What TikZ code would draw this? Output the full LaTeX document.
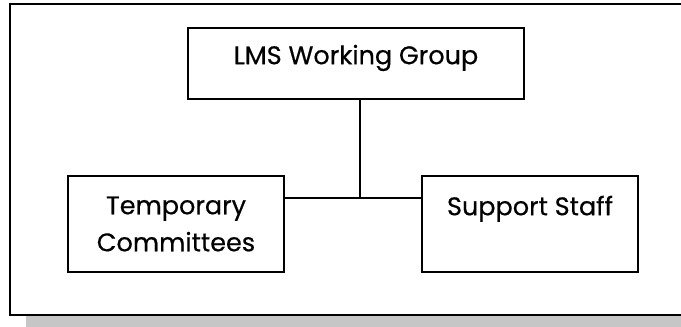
\documentclass[tikz,border=0pt]{standalone}
\usepackage{fontspec}
\setmainfont{Poppins}[FakeBold=0.5]
\usetikzlibrary{positioning}
\usetikzlibrary{calc}

\begin{document}
\begin{tikzpicture}[x=1pt,y=-1pt,
    box/.style={draw, line width=1.5pt, inner sep=0pt, align=center,
                font=\fontsize{25.5}{37}\selectfont},
    link/.style={line width=1.5pt}]
            \useasboundingbox (0,0) rectangle (681,327);
            % shadow and frame
            \fill[gray!45] (26,316) rectangle (700,327);
            \draw[line width=2pt] (10,3.5) rectangle (700,315);
            \node[box, minimum width=336, minimum height=71, text depth=18pt]  (lms)   at (356,63.5) {LMS Working Group};
            \node[box, minimum width=216, minimum height=96]  (temp)  at (176,224)  {Temporary\\Committees};
            \node[box, minimum width=216, minimum height=96]  (staff) at (530,224)  {Support Staff\\\mbox{}};
            \coordinate (j) at (360,198);
            \draw[link] (lms.south -| j) -- (j);
            \draw[link] (j -| temp.east) -- (j -| staff.west);
        \end{tikzpicture}
\end{document}
